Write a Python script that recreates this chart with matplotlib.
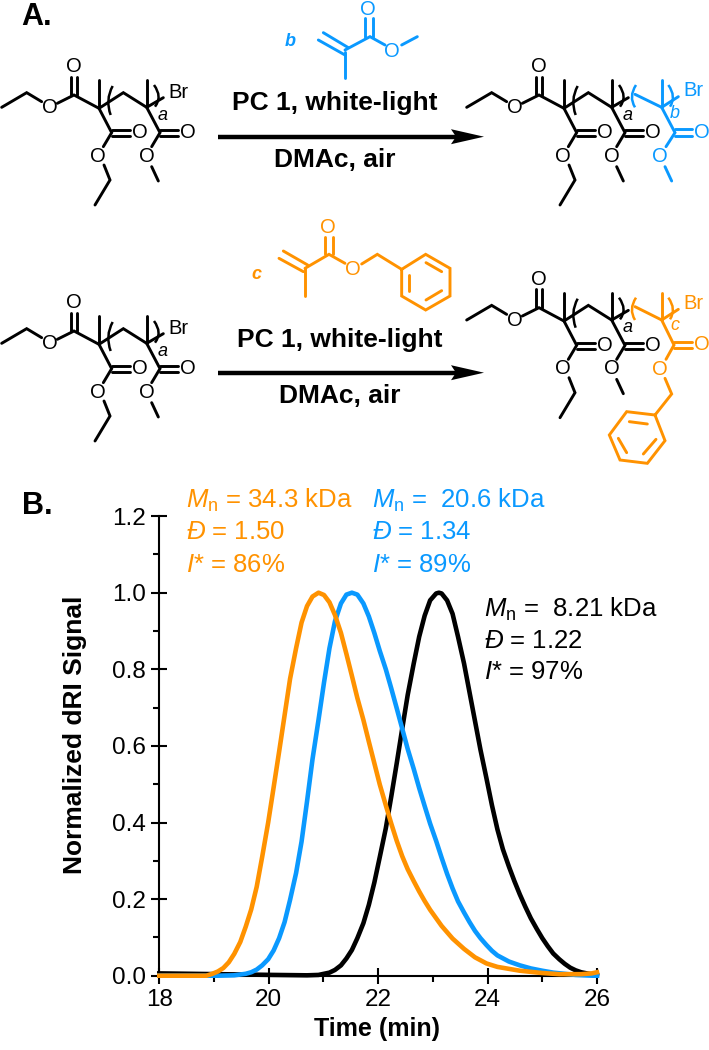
import matplotlib
matplotlib.use('Agg')
import matplotlib.pyplot as plt
from matplotlib.patches import PathPatch, Polygon
from matplotlib.path import Path

plt.rcParams['font.family'] = ['Liberation Sans', 'DejaVu Sans']
plt.rcParams['mathtext.fontset'] = 'custom'
plt.rcParams['mathtext.rm'] = 'Liberation Sans'
plt.rcParams['mathtext.it'] = 'Liberation Sans:italic'
plt.rcParams['mathtext.bf'] = 'Liberation Sans:bold'

BLACK = '#000000'
BLUE = '#0A99FF'
ORANGE = '#FF9200'

# GPC traces
black_t = [18, 19.07, 20.09, 20.7, 20.91, 21.11, 21.21, 21.32, 21.42, 21.52, 21.62, 21.73, 21.83, 21.93, 22.03, 22.14, 22.24, 22.34, 22.44,
           22.54, 22.65, 22.75, 22.85, 22.95, 23.06, 23.11, 23.16, 23.26, 23.36, 23.46, 23.57, 23.67, 23.77, 23.87, 23.98, 24.08, 24.18,
           24.28, 24.39, 24.49, 24.59, 24.69, 24.79, 24.9, 25.0, 25.1, 25.2, 25.31, 25.41, 25.51, 25.61, 25.71, 25.92, 26]
black_y = [.006, .004, .002, .001, .002, .008, .015, .027, .045, .067, .098, .137, .185, .243, .310, .385, .468, .555, .645,
           .733, .815, .885, .94, .98, .998, 1.0, .998, .98, .945, .885, .815, .74, .665, .59, .515, .445, .382,
           .330, .285, .247, .212, .18, .15, .122, .098, .077, .058, .043, .031, .021, .014, .009, .003, .001]
blue_t = [18, 19.07, 19.37, 19.58, 19.68, 19.78, 19.88, 19.99, 20.09, 20.19, 20.29, 20.39, 20.5, 20.6, 20.7, 20.8, 20.91, 21.01, 21.11,
          21.21, 21.32, 21.42, 21.52, 21.62, 21.73, 21.83, 21.93, 22.03, 22.14, 22.24, 22.34, 22.44, 22.54, 22.65, 22.75, 22.85, 22.95,
          23.06, 23.16, 23.26, 23.36, 23.46, 23.57, 23.67, 23.77, 23.87, 23.98, 24.08, 24.18, 24.39, 24.59, 24.79, 25.0, 25.2, 25.61,
          25.92, 26]
blue_y = [0, 0, .001, .005, .009, .016, .027, .043, .066, .098, .140, .198, .268, .350, .455, .565, .668, .765, .855,
          .925, .972, .995, 1.0, .995, .972, .938, .895, .848, .80, .75, .698, .645, .592, .54, .49, .443, .397,
          .352, .308, .266, .228, .194, .165, .14, .117, .098, .08, .065, .053, .037, .027, .019, .013, .008, .002,
          0, 0]
orange_t = [18, 18.86, 18.97, 19.07, 19.17, 19.27, 19.37, 19.48, 19.58, 19.68, 19.78, 19.88, 19.99, 20.09, 20.19, 20.29, 20.39, 20.5,
            20.6, 20.7, 20.8, 20.91, 21.01, 21.11, 21.21, 21.32, 21.42, 21.52, 21.62, 21.73, 21.83, 21.93, 22.03, 22.14, 22.24, 22.34,
            22.44, 22.54, 22.65, 22.75, 22.85, 22.95, 23.06, 23.16, 23.36, 23.57, 23.77, 23.98, 24.18, 24.59, 25.0, 25.31, 25.71, 25.9, 26]
orange_y = [0, 0, .005, .011, .02, .035, .057, .088, .128, .173, .232, .31, .40, .492, .585, .68, .775, .855,
            .922, .965, .99, 1.0, .994, .975, .942, .895, .84, .783, .725, .668, .611, .555, .499, .445, .397, .352,
            .312, .278, .247, .22, .195, .172, .15, .13, .097, .07, .048, .032, .023, .013, .007, .004, .004, .006, .009]

orange_label = [r'$\mathit{M}_{\mathrm{n}}$ = 34.3 kDa', r'$\mathit{Đ}$ = 1.50', r'$\mathit{I}$* = 86%']
blue_label = [r'$\mathit{M}_{\mathrm{n}}$ =  20.6 kDa', r'$\mathit{Đ}$ = 1.34', r'$\mathit{I}$* = 89%']
black_label = [r'$\mathit{M}_{\mathrm{n}}$ =  8.21 kDa', r'$\mathit{Đ}$ = 1.22', r'$\mathit{I}$* = 97%']

# scheme drawing, in units of 1/3 pixel
init_bonds = [[(5, 322), (80, 278), (125, 305)], [(172, 310), (222, 285), (297, 325), (335, 398), (310, 440)],
              [(212, 285), (212, 230)], [(232, 285), (232, 230)], [(297, 325), (297, 240)],
              [(335, 390), (390, 390)], [(335, 408), (390, 408)], [(312, 495), (330, 540), (285, 615)],
              [(297, 325), (370, 278), (440, 322), (480, 398), (455, 440)], [(440, 322), (440, 240)],
              [(480, 390), (535, 390)], [(480, 408), (535, 408)], [(455, 500), (475, 543)]]
init_tail = [(440, 322), (490, 293)]
init_atoms = [(150, 322), (222, 200), (420, 398), (295, 468), (565, 398), (440, 468)]
init_parens = [((338, 258), (315, 300), (332, 345)), ((462, 255), (488, 290), (465, 320))]
b_bonds = [[(825, 283), (905, 322), (945, 398), (918, 440)], [(905, 322), (905, 240)], [(905, 322), (955, 290)],
           [(945, 388), (995, 388)], [(945, 408), (995, 408)], [(915, 500), (935, 543)]]
b_atoms = [(1025, 398), (900, 468)]
b_parens = [((828, 255), (805, 290), (825, 322)), ((925, 255), (950, 290), (930, 320))]
c_bonds = [[(825, 230), (905, 270), (942, 345), (918, 388)], [(905, 270), (905, 188)], [(905, 270), (955, 238)],
           [(942, 335), (995, 335)], [(942, 355), (995, 355)], [(915, 445), (935, 492), (885, 555)],
           [(885, 555), (800, 545), (748, 615), (780, 690), (862, 700), (915, 632), (885, 555)],
           [(808, 575), (862, 582)], [(775, 625), (800, 668)], [(850, 672), (888, 628)]]
c_atoms = [(1025, 345), (900, 418)]
c_parens = [((828, 203), (805, 238), (825, 270)), ((925, 203), (950, 238), (930, 268))]
mono_b_bonds = [[(295, 120), (375, 165)], [(310, 98), (385, 143)], [(375, 155), (375, 235)],
                [(375, 150), (450, 110), (495, 135)], [(435, 110), (435, 55)], [(458, 110), (458, 55)],
                [(545, 135), (592, 110)]]
mono_b_atoms = [(445, 28), (515, 155)]
mono_c_bonds = [[(177, 115), (250, 155)], [(190, 93), (263, 135)], [(255, 145), (255, 228)],
                [(255, 145), (327, 103), (375, 130)], [(315, 103), (315, 50)], [(338, 103), (338, 50)],
                [(425, 132), (472, 103), (545, 148), (617, 103), (690, 145), (690, 228), (617, 270), (545, 228), (545, 148)],
                [(618, 128), (665, 155)], [(665, 212), (618, 240)], [(568, 212), (568, 165)]]
mono_c_atoms = [(325, 22), (398, 148)]


def draw_bonds(ax, bonds, ox, oy, color):
    for b in bonds:
        ax.plot([ox + p[0] / 3 for p in b], [oy + p[1] / 3 for p in b], color=color, lw=2.1,
                solid_capstyle='round', solid_joinstyle='miter')


def draw_atoms(ax, atoms, ox, oy, color):
    for a in atoms:
        ax.text(ox + a[0] / 3, oy + a[1] / 3, 'O', color=color, fontsize=14.5, ha='center', va='center')


def draw_parens(ax, parens, ox, oy, color):
    for pr in parens:
        verts = [(ox + p[0] / 3, oy + p[1] / 3) for p in pr]
        ax.add_patch(PathPatch(Path(verts, [Path.MOVETO, Path.CURVE3, Path.CURVE3]), fc='none', ec=color, lw=1.8))


def draw_initiator(ax, ox, oy):
    draw_bonds(ax, init_bonds + [init_tail], ox, oy, BLACK)
    draw_atoms(ax, init_atoms, ox, oy, BLACK)
    draw_parens(ax, init_parens, ox, oy, BLACK)
    ax.text(ox + 487 / 3, oy + 345 / 3, 'a', style='italic', fontsize=13, ha='center', va='center')


def draw_arrow(ax, y, top_text_y, bot_text_y, text_x):
    ax.plot([218, 460], [y, y], color='k', lw=3.2, solid_capstyle='butt')
    ax.add_patch(Polygon([(451, y - 7.5), (484, y), (451, y + 7.5), (456, y)], closed=True, fc='k', ec='none'))
    ax.text(text_x, top_text_y, 'PC 1, white-light', fontsize=19, fontweight='bold', ha='center', va='center')
    ax.text(text_x, bot_text_y, 'DMAc, air', fontsize=19, fontweight='bold', ha='center', va='center')


fig = plt.figure(figsize=(7.09, 10.5), dpi=100)

# chart
ax = fig.add_axes([159.3 / 709, 74.3 / 1050, 437.7 / 709, 459.6 / 1050])
ax.plot(black_t, black_y, color=BLACK, lw=3.3, clip_on=False, zorder=3)
ax.plot(blue_t, blue_y, color=BLUE, lw=3.3, clip_on=False, zorder=3)
ax.plot(orange_t, orange_y, color=ORANGE, lw=3.3, clip_on=False, zorder=3)
ax.set_xlim(18, 26)
ax.set_ylim(0, 1.2)
ax.set_xticks([18, 20, 22, 24, 26])
ax.set_xticks([19, 21, 23, 25], minor=True)
ax.set_yticks([0, .2, .4, .6, .8, 1.0, 1.2])
ax.set_yticks([.1, .3, .5, .7, .9, 1.1], minor=True)
ax.set_yticklabels(['0.0', '0.2', '0.4', '0.6', '0.8', '1.0', '1.2'])
ax.spines['top'].set_visible(False)
ax.spines['right'].set_visible(False)
ax.spines['left'].set_linewidth(1.5)
ax.spines['bottom'].set_linewidth(1.5)
ax.tick_params(which='major', direction='inout', length=11, width=1.5, labelsize=17.5, pad=4)
ax.tick_params(which='minor', direction='out', length=4, width=1.5)
ax.set_xlabel('Time (min)', fontsize=18, fontweight='bold', va='center')
ax.set_ylabel('Normalized dRI Signal', fontsize=19, fontweight='bold', va='center')
ax.xaxis.set_label_coords(.498, -.115)
ax.yaxis.set_label_coords(-.193, .524)

# scheme layer in pixels
sk = fig.add_axes([0, 0, 1, 1])
sk.set_xlim(0, 709)
sk.set_ylim(1050, 0)
sk.axis('off')
sk.patch.set_alpha(0)

sk.text(21, 25, 'A.', fontsize=22, fontweight='bold', va='baseline')
sk.text(22, 514, 'B.', fontsize=22, fontweight='bold', va='baseline')

draw_initiator(sk, 0, 0)
sk.text(178, 93, 'Br', fontsize=14.5, ha='center', va='center')
draw_initiator(sk, 0, 236)
sk.text(178, 329, 'Br', fontsize=14.5, ha='center', va='center')

draw_initiator(sk, 465, 0)
draw_bonds(sk, b_bonds, 360, 0, BLUE)
draw_atoms(sk, b_atoms, 360, 0, BLUE)
draw_parens(sk, b_parens, 360, 0, BLUE)
sk.text(360 + 1000 / 3, 272 / 3, 'Br', color=BLUE, fontsize=14.5, ha='center', va='center')
sk.text(360 + 945 / 3, 340 / 3, 'b', color=BLUE, style='italic', fontsize=13, ha='center', va='center')

draw_initiator(sk, 465, 212.7)
draw_bonds(sk, c_bonds, 360, 230, ORANGE)
draw_atoms(sk, c_atoms, 360, 230, ORANGE)
draw_parens(sk, c_parens, 360, 230, ORANGE)
sk.text(360 + 1000 / 3, 230 + 220 / 3, 'Br', color=ORANGE, fontsize=14.5, ha='center', va='center')
sk.text(360 + 945 / 3, 230 + 288 / 3, 'c', color=ORANGE, style='italic', fontsize=13, ha='center', va='center')

draw_bonds(sk, mono_b_bonds, 220, 0, BLUE)
draw_atoms(sk, mono_b_atoms, 220, 0, BLUE)
sk.text(220 + 212 / 3, 125 / 3, 'b', color=BLUE, style='italic', fontweight='bold', fontsize=13, ha='center', va='center')
draw_bonds(sk, mono_c_bonds, 220, 220, ORANGE)
draw_atoms(sk, mono_c_atoms, 220, 220, ORANGE)
sk.text(220 + 108 / 3, 220 + 163 / 3, 'c', color=ORANGE, style='italic', fontweight='bold', fontsize=13, ha='center', va='center')

draw_arrow(sk, 136.7, 103, 160, 335)
draw_arrow(sk, 372.7, 340, 396, 340)

# molecular weight labels
for x0, base, lines, col in [(186, [508, 539, 572], orange_label, ORANGE), (372, [508, 539, 572], blue_label, BLUE),
                             (484, [617, 648, 679], black_label, BLACK)]:
    for yy, s in zip(base, lines):
        sk.text(x0, yy, s, color=col, fontsize=18.5, va='baseline')

fig.savefig('out.png', dpi=100)
